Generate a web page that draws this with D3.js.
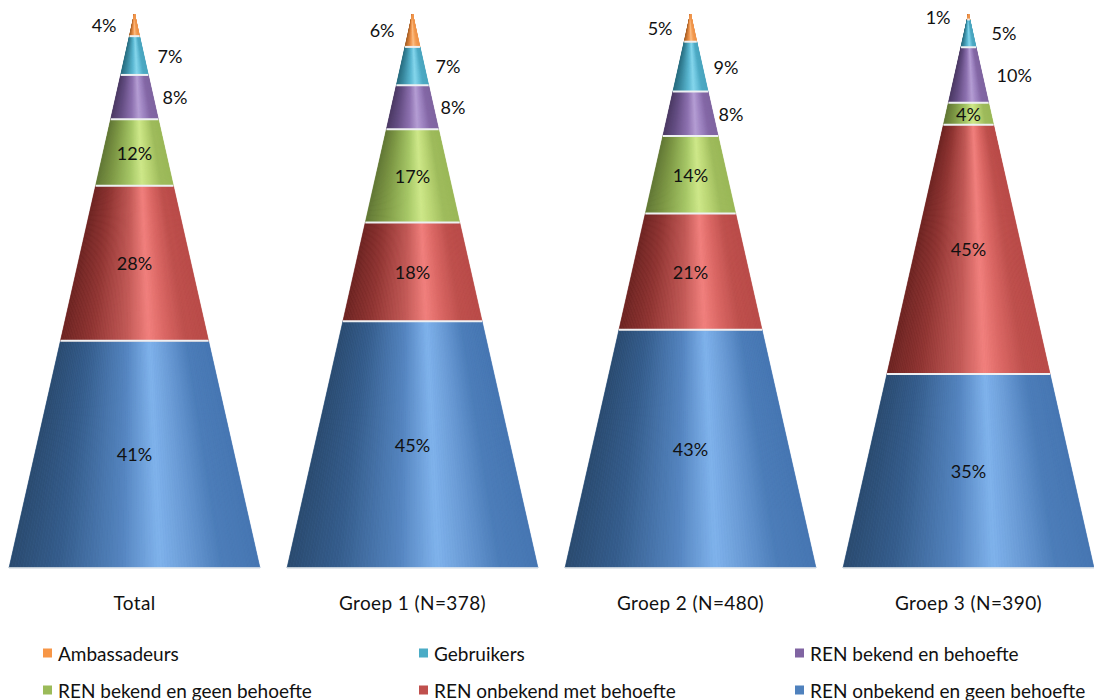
<!DOCTYPE html>
<html>
<head>
<meta charset="utf-8">
<script src="https://cdnjs.cloudflare.com/ajax/libs/d3/7.8.5/d3.min.js"></script>
<style>
  html, body { margin: 0; padding: 0; background: #ffffff; }
  svg { display: block; }
  text { font-family: Lato, "Open Sans", sans-serif; fill: #111; }
</style>
</head>
<body>
<svg id="chart" width="1094" height="700"></svg>
<script>
// Groups shown as cones
const groups = ["Total", "Groep 1 (N=378)", "Groep 2 (N=480)", "Groep 3 (N=390)"];

// Series, stacked from the base of each cone upwards
const seriesNames = [
  "REN onbekend en geen behoefte",
  "REN onbekend met behoefte",
  "REN bekend en geen behoefte",
  "REN bekend en behoefte",
  "Gebruikers",
  "Ambassadeurs"
];

// Percentages per group (Total, Groep 1, Groep 2, Groep 3)
const onbekendGeenBehoefte = [41, 45, 43, 35];
const onbekendMetBehoefte  = [28, 18, 21, 45];
const bekendGeenBehoefte   = [12, 17, 14, 4];
const bekendMetBehoefte    = [8, 8, 8, 10];
const gebruikers           = [7, 7, 9, 5];
const ambassadeurs         = [4, 6, 5, 1];

// Legend order (row by row)
const legendOrder = [
  "Ambassadeurs", "Gebruikers", "REN bekend en behoefte",
  "REN bekend en geen behoefte", "REN onbekend met behoefte", "REN onbekend en geen behoefte"
];

const seriesValues = [
  onbekendGeenBehoefte, onbekendMetBehoefte, bekendGeenBehoefte,
  bekendMetBehoefte, gebruikers, ambassadeurs
];

const rows = groups.map((g, i) => {
  const r = { group: g };
  seriesNames.forEach((s, k) => { r[s] = seriesValues[k][i]; });
  return r;
});

// Shading across the cone surface (left edge -> right edge)
const shadeStops = [0, 0.2, 0.45, 0.6, 0.7, 0.85, 1];
const shades = {
  "REN onbekend en geen behoefte": ["#2a4a6f", "#355d8c", "#5585c0", "#80b3ec", "#6e9fd9", "#4c7db9", "#4676b2"],
  "REN onbekend met behoefte":     ["#6b2422", "#8e3432", "#c25a57", "#f2817e", "#dd6a67", "#be504d", "#b94b48"],
  "REN bekend en geen behoefte":   ["#5f7434", "#7c9744", "#a6c767", "#cfe88a", "#bdd877", "#9ebb5c", "#9ab757"],
  "REN bekend en behoefte":        ["#4a3862", "#634d82", "#8e72b0", "#b59ed4", "#a187c4", "#8468a6", "#7f64a0"],
  "Gebruikers":                    ["#276a7d", "#3a8aa0", "#5cb8d2", "#86d6ec", "#6fc6df", "#4eaac4", "#4aa5bf"],
  "Ambassadeurs":                  ["#9e5a22", "#c87634", "#f39b55", "#fbc18a", "#f8ad6c", "#f39a50", "#ee944b"]
};
const legendColor = d3.scaleOrdinal()
  .domain(seriesNames)
  .range(["#4f81bd", "#c0504d", "#9bbb59", "#8064a2", "#4bacc6", "#f79646"]);

const svg = d3.select("#chart");

const x = d3.scalePoint().domain(groups).range([134.5, 968.5]);
const y = d3.scaleLinear().domain([0, 1]).range([568, 14]);
const halfWidth = d3.scaleLinear().domain([0, 1]).range([125.5, 0]);

const stack = d3.stack().keys(seriesNames).offset(d3.stackOffsetExpand);
const stacked = stack(rows);

const nStrips = 90;
const stripU = d3.range(nStrips + 1).map(i => -1 + 2 * i / nStrips);

const conesG = svg.append("g");

stacked.forEach(layer => {
  const name = layer.key;
  const shade = d3.scaleLinear().domain(shadeStops).range(shades[name]).interpolate(d3.interpolateRgb);
  layer.forEach(seg => {
    const cx = x(seg.data.group);
    const f0 = seg[0], f1 = seg[1];
    const y0 = y(f0), y1 = y(f1);
    const h0 = halfWidth(f0), h1 = halfWidth(f1);
    const g = conesG.append("g");
    // base shape of the segment
    g.append("path")
      .attr("d", `M${cx - h0},${y0}L${cx + h0},${y0}L${cx + h1},${y1}L${cx - h1},${y1}Z`)
      .attr("fill", shade(0.5));
    // surface shading following the cone generatrices
    for (let i = 0; i < nStrips; i++) {
      const ua = stripU[i], ub = stripU[i + 1];
      const c = shade((ua + ub) / 2 * 0.5 + 0.5);
      g.append("path")
        .attr("d", `M${cx + ua * h0},${y0}L${cx + ub * h0},${y0}L${cx + ub * h1},${y1}L${cx + ua * h1},${y1}Z`)
        .attr("fill", c)
        .attr("stroke", c)
        .attr("stroke-width", 0.6);
    }
  });
});

// light rim lines between segments and along the base
stacked.forEach(layer => {
  layer.forEach(seg => {
    const cx = x(seg.data.group);
    const f0 = seg[0];
    const h0 = halfWidth(f0);
    conesG.append("line")
      .attr("x1", cx - h0).attr("x2", cx + h0)
      .attr("y1", y(f0)).attr("y2", y(f0))
      .attr("stroke", "#eef0f2")
      .attr("stroke-width", f0 === 0 ? 1.5 : 2);
  });
});

// value labels
const labelsG = svg.append("g").attr("font-size", 18);
stacked.forEach((layer, k) => {
  const name = layer.key;
  layer.forEach((seg, i) => {
    const cx = x(seg.data.group);
    const ym = y((seg[0] + seg[1]) / 2);
    const v = seriesValues[k][i];
    let tx = cx, anchor = "middle";
    if (name === "Ambassadeurs") { tx = cx - 18; anchor = "end"; }
    else if (name === "Gebruikers") { tx = cx + 23; anchor = "start"; }
    else if (name === "REN bekend en behoefte") { tx = cx + 28; anchor = "start"; }
    labelsG.append("text")
      .attr("x", tx).attr("y", ym)
      .attr("text-anchor", anchor)
      .attr("dominant-baseline", "central")
      .text(v + "%");
  });
});

// category labels
svg.append("g").selectAll("text")
  .data(groups)
  .join("text")
  .attr("x", d => x(d))
  .attr("y", 602)
  .attr("text-anchor", "middle")
  .attr("dominant-baseline", "central")
  .attr("font-size", 19)
  .attr("letter-spacing", 0.4)
  .text(d => d);

// legend
const legX = d3.scalePoint().domain([0, 1, 2]).range([43, 795]);
const legY = d3.scalePoint().domain([0, 1]).range([653, 690]);
const leg = svg.append("g").selectAll("g")
  .data(legendOrder)
  .join("g")
  .attr("transform", (d, i) => `translate(${legX(i % 3)},${legY(Math.floor(i / 3))})`);
leg.append("rect")
  .attr("x", 0).attr("y", -4.5)
  .attr("width", 9).attr("height", 9)
  .attr("fill", d => legendColor(d));
leg.append("text")
  .attr("x", 15).attr("y", 0)
  .attr("dominant-baseline", "central")
  .attr("font-size", 19)
  .text(d => d);
</script>
</body>
</html>
